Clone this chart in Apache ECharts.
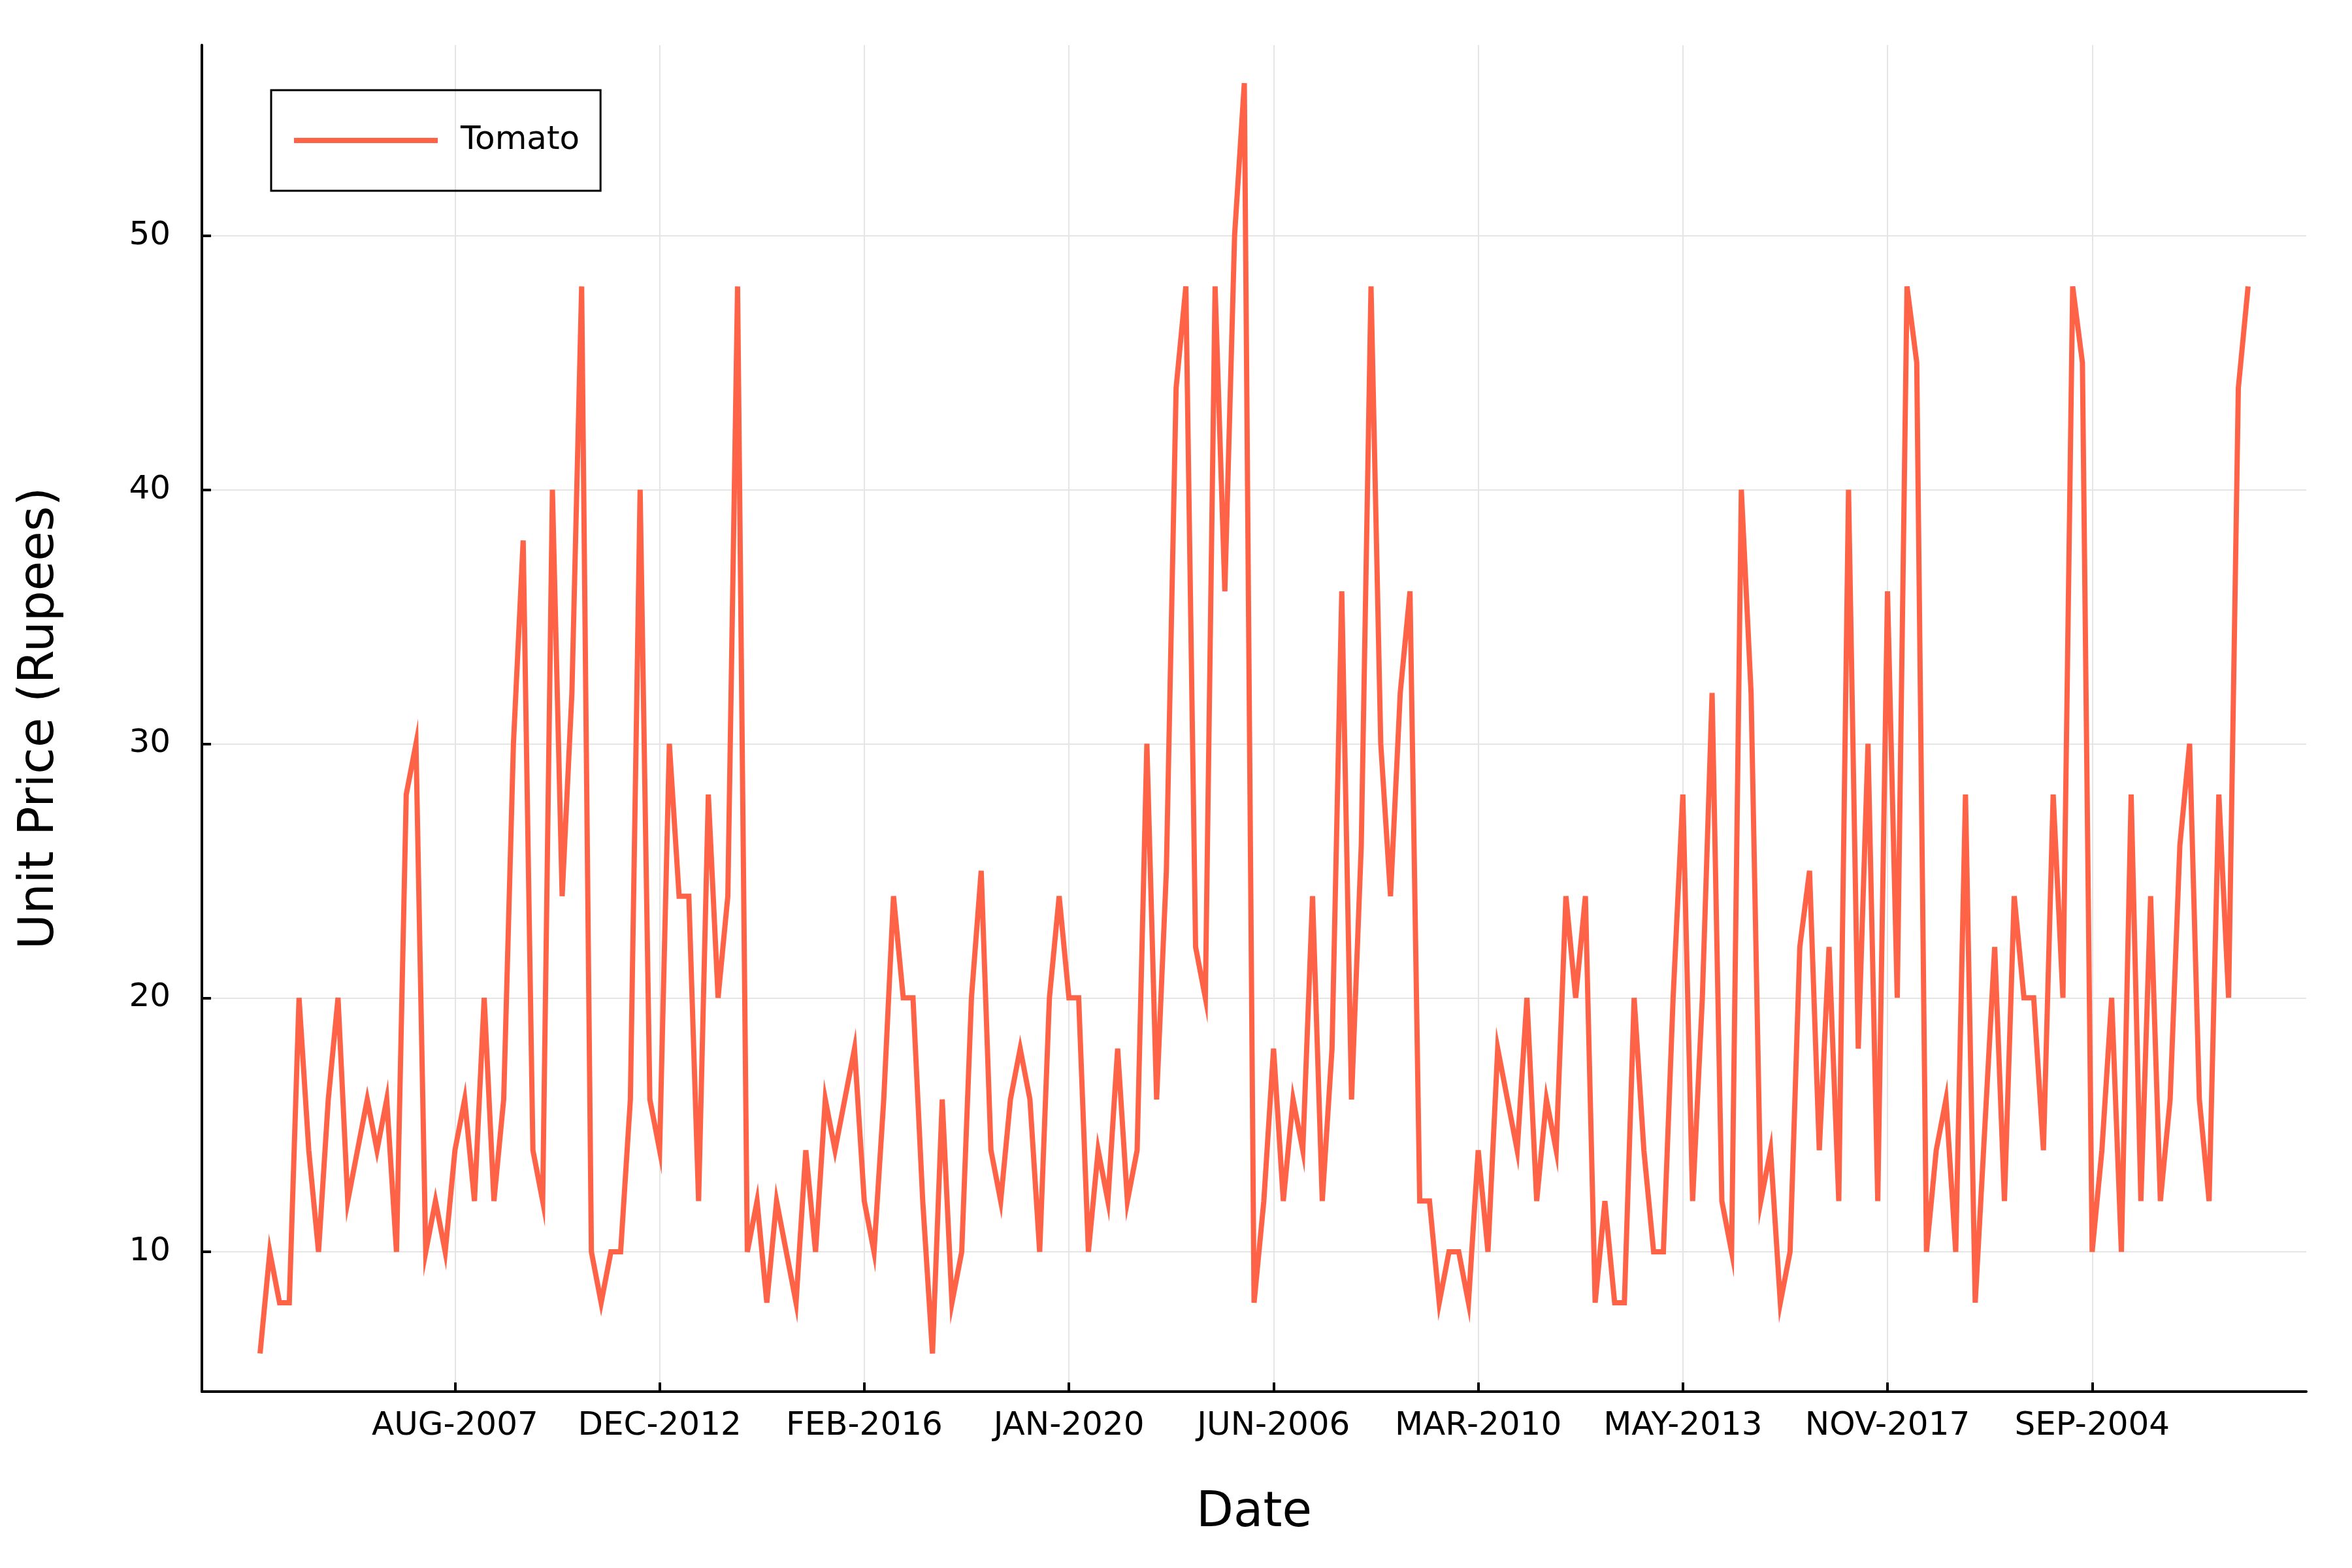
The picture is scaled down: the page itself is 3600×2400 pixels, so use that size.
<!DOCTYPE html>
<html><head><meta charset="utf-8">
<script src="https://cdn.jsdelivr.net/npm/echarts@6/dist/echarts.min.js"></script>
<style>html,body{margin:0;padding:0;background:#fff}#c{width:3600px;height:2400px}</style>
</head><body><div id="c"></div>
<script>
const prices = [6,10,8,8,20,14,10,16,20,12,14,16,14,16,10,28,30,10,12,10,
14,16,12,20,12,16,30,38,14,12,40,24,32,48,10,8,10,10,16,40,
16,14,30,24,24,12,28,20,24,48,10,12,8,12,10,8,14,10,16,14,
16,18,12,10,16,24,20,20,12,6,16,8,10,20,25,14,12,16,18,16,
10,20,24,20,20,10,14,12,18,12,14,30,16,25,44,48,22,20,48,36,
50,56,8,12,18,12,16,14,24,12,18,36,16,26,48,30,24,32,36,12,
12,8,10,10,8,14,10,18,16,14,20,12,16,14,24,20,24,8,12,8,
8,20,14,10,10,20,28,12,20,32,12,10,40,32,12,14,8,10,22,25,
14,22,12,40,18,30,12,36,20,48,45,10,14,16,10,28,8,15,22,12,
24,20,20,14,28,20,48,45,10,14,20,10,28,12,24,12,16,26,30,16,
12,28,20,44,48];
const tickIndex = [20,41,62,83,104,125,146,167,188];
const tickLabels = ['AUG-2007','DEC-2012','FEB-2016','JAN-2020','JUN-2006','MAR-2010','MAY-2013','NOV-2017','SEP-2004'];
const seriesName = 'Tomato';
const yTicks = [10,20,30,40,50];

const font = 'DejaVu Sans';
const chart = echarts.init(document.getElementById('c'), null, {renderer:'canvas'});
chart.setOption({
  animation:false,
  backgroundColor:'#fff',
  textStyle:{fontFamily:font},
  grid:{left:309,right:70,top:69,bottom:270,containLabel:false},
  legend:{
    left:415, top:138, orient:'vertical',
    data:[{name:seriesName, icon:'rect'}],
    itemWidth:220, itemHeight:8,
    borderColor:'#000', borderWidth:3, borderRadius:0,
    padding:[52,32,52,35],
    textStyle:{fontFamily:font,fontSize:50,color:'#000',padding:[0,0,0,30]}
  },
  xAxis:{
    type:'value', min:-5.97, max:209.97,
    name:'Date', nameLocation:'middle', nameGap:150,
    nameTextStyle:{fontFamily:font,fontSize:74,color:'#000'},
    axisLine:{show:true,onZero:false,lineStyle:{color:'#000',width:4}},
    axisTick:{show:true,inside:true,length:14,lineStyle:{color:'#000',width:4},customValues:tickIndex},
    axisLabel:{show:true,fontFamily:font,fontSize:50,color:'#000',margin:28,customValues:tickIndex,
      formatter:v=>{const k=tickIndex.indexOf(Math.round(v));return k>=0?tickLabels[k]:'';}},
    splitLine:{show:true,lineStyle:{color:'#e5e5e5',width:2}}
  },
  yAxis:{
    type:'value', min:4.5, max:57.5,
    name:'Unit Price (Rupees)', nameLocation:'middle', nameGap:210, nameRotate:90,
    nameTextStyle:{fontFamily:font,fontSize:74,color:'#000'},
    axisLine:{show:true,onZero:false,lineStyle:{color:'#000',width:4}},
    axisTick:{show:true,inside:true,length:14,lineStyle:{color:'#000',width:4},customValues:yTicks},
    axisLabel:{show:true,fontFamily:font,fontSize:50,color:'#000',margin:48,customValues:yTicks},
    splitLine:{show:true,lineStyle:{color:'#e5e5e5',width:2}}
  },
  series:[{
    name:seriesName, type:'line', showSymbol:false, symbol:'none',
    data:prices.map((v,i)=>[i,v]),
    lineStyle:{color:'#ff6347',width:8,join:'miter'},
    itemStyle:{color:'#ff6347'}
  }]
});
</script></body></html>
